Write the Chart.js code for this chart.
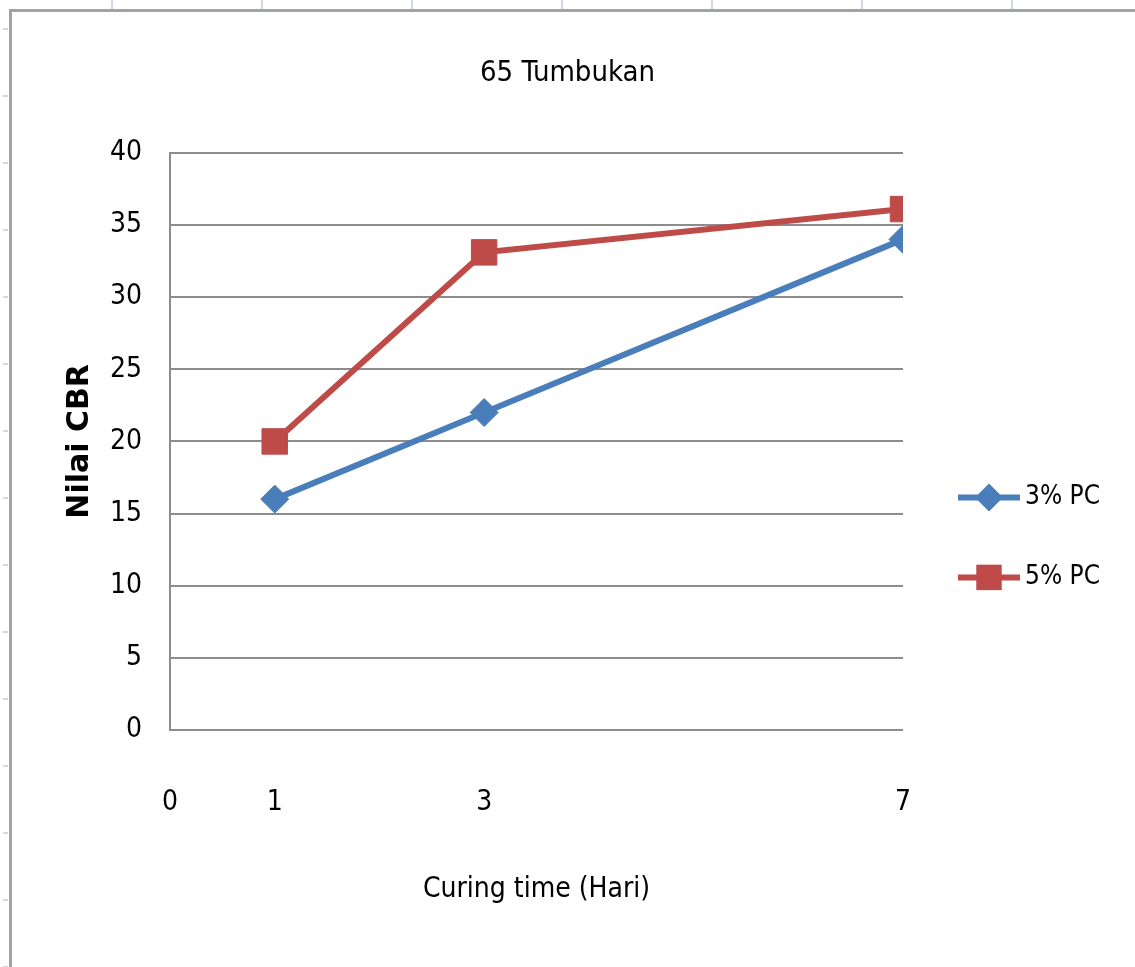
<!DOCTYPE html>
<html>
<head>
<meta charset="utf-8">
<script src="https://cdn.jsdelivr.net/npm/chart.js@4.4.1/dist/chart.umd.min.js"></script>
<style>
  html, body { margin: 0; padding: 0; background: #fff; }
  #wrap {
    position: relative; width: 1135px; height: 967px; overflow: hidden;
    background: repeating-linear-gradient(to right, transparent 0, transparent 111px, #cfd6e4 111px, #cfd6e4 113px, transparent 113px, transparent 150px);
  }
  #rows {
    position: absolute; left: 3px; top: 0; width: 5px; height: 967px;
    background: repeating-linear-gradient(to bottom, transparent 0, transparent 28px, #cfd6e4 28px, #cfd6e4 30px, transparent 30px, transparent 67px);
  }
  #frame {
    position: absolute; left: 9px; top: 9px; width: 1200px; height: 1000px;
    border-left: 3px solid #a3a3a3; border-top: 3px solid #a3a3a3; background: #fff;
  }
  canvas { position: absolute; left: 0; top: 0; }
</style>
</head>
<body>
<div id="wrap">
  <div id="rows"></div>
  <div id="frame"></div>
  <canvas id="cbrChart" width="1135" height="967"></canvas>
</div>
<script>
// data
const xTicks = [0, 1, 3, 7];
const curingDays = [1, 3, 7];
const pc3 = [16, 22, 34];
const pc5 = [20, 33.1, 36.1];
const seriesNames = ["3% PC", "5% PC"];
const seriesColors = ["#4A7EBB", "#BE4B48"];

const narrow = "'DejaVu Sans Condensed', 'DejaVu Sans', sans-serif";

// legend with line + marker, drawn to the right of the plot
const lineLegend = {
  id: "lineLegend",
  afterDraw(chart) {
    const { ctx, chartArea } = chart;
    const x0 = chartArea.right + 55;
    let y = (chartArea.top + chartArea.bottom) / 2 + 56;
    chart.data.datasets.forEach((ds) => {
      ctx.save();
      ctx.strokeStyle = ds.borderColor;
      ctx.fillStyle = ds.borderColor;
      ctx.lineWidth = ds.borderWidth;
      ctx.beginPath();
      ctx.moveTo(x0, y);
      ctx.lineTo(x0 + 62, y);
      ctx.stroke();
      const cx = x0 + 31;
      const r = ds.pointRadius;
      ctx.beginPath();
      if (ds.pointStyle === "rectRot") {
        ctx.moveTo(cx, y - r);
        ctx.lineTo(cx + r, y);
        ctx.lineTo(cx, y + r);
        ctx.lineTo(cx - r, y);
      } else {
        const s = r * Math.SQRT1_2;
        ctx.rect(cx - s, y - s, 2 * s, 2 * s);
      }
      ctx.fill();
      ctx.fillStyle = "#000";
      ctx.font = "26px " + narrow;
      ctx.textBaseline = "middle";
      ctx.fillText(ds.label, x0 + 67, y);
      ctx.restore();
      y += 80;
    });
  },
};

const ctx = document.getElementById("cbrChart").getContext("2d");
new Chart(ctx, {
  type: "line",
  data: {
    datasets: [
      {
        label: seriesNames[0],
        data: curingDays.map((d, i) => ({ x: d, y: pc3[i] })),
        borderColor: seriesColors[0],
        backgroundColor: seriesColors[0],
        borderWidth: 6,
        pointStyle: "rectRot",
        pointRadius: 14,
        pointBackgroundColor: seriesColors[0],
        pointBorderColor: seriesColors[0],
        pointBorderWidth: 1,
        tension: 0,
      },
      {
        label: seriesNames[1],
        data: curingDays.map((d, i) => ({ x: d, y: pc5[i] })),
        borderColor: seriesColors[1],
        backgroundColor: seriesColors[1],
        borderWidth: 6,
        pointStyle: "rect",
        pointRadius: 18,
        pointBackgroundColor: seriesColors[1],
        pointBorderColor: seriesColors[1],
        pointBorderWidth: 1,
        tension: 0,
      },
    ],
  },
  options: {
    responsive: false,
    animation: false,
    devicePixelRatio: 1,
    layout: { padding: 0 },
    plugins: {
      legend: { display: false },
      tooltip: { enabled: false },
      title: {
        display: true,
        text: "65 Tumbukan",
        color: "#000",
        font: { family: narrow, size: 29, weight: "normal" },
        padding: { top: 56, bottom: 62 },
      },
    },
    scales: {
      x: {
        type: "linear",
        min: 0,
        max: 7,
        afterBuildTicks: (scale) => {
          scale.ticks = xTicks.map((v) => ({ value: v }));
        },
        afterFit: (scale) => {
          scale.height = 237;
        },
        grid: { display: false, drawTicks: false },
        border: { display: false },
        ticks: {
          color: "#000",
          font: { family: narrow, size: 28 },
          padding: 56,
          maxRotation: 0,
        },
        title: {
          display: true,
          text: "Curing time (Hari)",
          color: "#000",
          font: { family: narrow, size: 28 },
          padding: { top: 0, bottom: 60 },
        },
      },
      y: {
        min: 0,
        max: 40,
        afterFit: (scale) => {
          scale.width = 170;
        },
        grid: { color: "#8c8c8c", lineWidth: 2, drawTicks: false },
        border: { display: true, color: "#8c8c8c", width: 2 },
        ticks: {
          stepSize: 5,
          color: "#000",
          font: { family: narrow, size: 28 },
          padding: 28,
        },
        title: {
          display: true,
          text: "Nilai CBR",
          color: "#000",
          font: { family: "'DejaVu Sans', sans-serif", size: 30, weight: "bold" },
          padding: { top: 62, bottom: 0 },
        },
      },
      pad: {
        type: "linear",
        position: "right",
        display: true,
        grid: { display: false },
        border: { display: false },
        ticks: { display: false },
        afterFit: (scale) => {
          scale.width = 232;
        },
      },
    },
  },
  plugins: [lineLegend],
});
</script>
</body>
</html>
